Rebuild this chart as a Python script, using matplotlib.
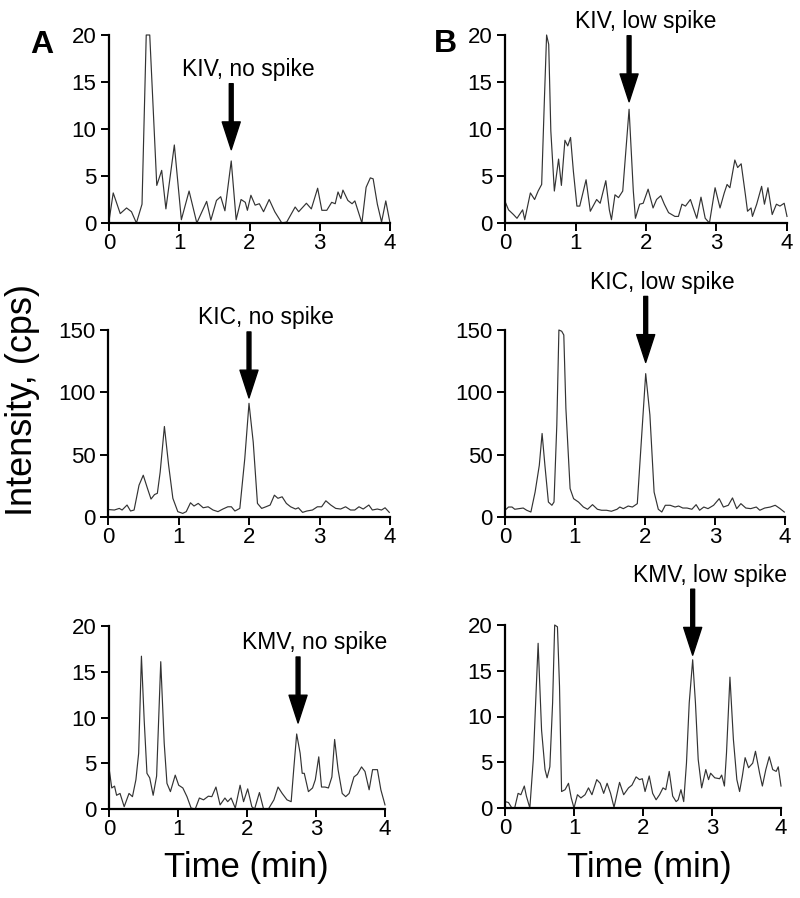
import numpy as np
import matplotlib
matplotlib.use("Agg")
import matplotlib.pyplot as plt

plt.rcParams['font.family'] = ['Liberation Sans', 'DejaVu Sans']

# ---- traces (time in min, intensity in cps) ----
kiv_no_t = [0.0, 0.06, 0.16, 0.25, 0.32, 0.39, 0.47, 0.53, 0.58, 0.68, 0.75, 0.81, 0.93, 1.03,
            1.14, 1.25, 1.39, 1.45, 1.53, 1.59, 1.65, 1.74, 1.81, 1.88, 1.94, 1.97, 2.02, 2.08,
            2.14, 2.20, 2.28, 2.36, 2.46, 2.53, 2.65, 2.70, 2.81, 2.88, 2.97, 3.03, 3.10, 3.17,
            3.22, 3.26, 3.30, 3.33, 3.40, 3.46, 3.50, 3.60, 3.66, 3.72, 3.76, 3.82, 3.88, 3.94, 4.0]
kiv_no_y = [0.2, 3.2, 1.0, 1.6, 1.2, 0.0, 2.0, 20.0, 20.0, 4.0, 5.6, 1.5, 8.3, 0.35,
            3.4, 0.0, 2.3, 0.3, 2.4, 2.8, 1.3, 6.6, 0.35, 2.5, 2.2, 1.35, 2.95, 1.9,
            2.05, 1.2, 2.5, 1.2, 0.0, 0.1, 1.7, 1.2, 2.1, 1.5, 3.7, 1.35, 1.35, 2.2,
            2.05, 3.3, 2.6, 3.5, 2.4, 2.05, 2.35, 0.0, 3.8, 4.8, 4.7, 2.0, 0.1, 2.35, 0.0]

kiv_low_t = [0.0, 0.05, 0.12, 0.17, 0.25, 0.28, 0.36, 0.42, 0.47, 0.52, 0.56, 0.59, 0.62, 0.65,
             0.70, 0.76, 0.80, 0.85, 0.89, 0.93, 0.97, 1.02, 1.06, 1.15, 1.21, 1.30, 1.35, 1.43,
             1.48, 1.51, 1.56, 1.61, 1.67, 1.76, 1.82, 1.85, 1.91, 1.96, 2.03, 2.10, 2.15, 2.21,
             2.26, 2.32, 2.41, 2.46, 2.51, 2.56, 2.63, 2.67, 2.72, 2.78, 2.84, 2.90, 2.98, 3.05,
             3.11, 3.15, 3.19, 3.26, 3.30, 3.35, 3.41, 3.44, 3.49, 3.51, 3.57, 3.64, 3.68, 3.73,
             3.79, 3.85, 3.90, 3.96, 4.0]
kiv_low_y = [2.3, 1.4, 0.9, 0.5, 1.4, 0.35, 3.2, 2.5, 3.4, 4.1, 13.4, 20.0, 19.0, 9.8,
             3.4, 6.8, 4.0, 8.8, 8.2, 9.1, 5.5, 1.8, 1.8, 4.6, 1.25, 2.5, 2.1, 4.5,
             1.4, 0.35, 3.0, 2.7, 3.4, 12.1, 3.4, 0.5, 2.0, 2.1, 3.6, 1.6, 2.5, 2.9,
             2.0, 1.1, 0.7, 0.7, 2.0, 1.8, 2.5, 1.6, 0.5, 2.75, 0.5, 0.0, 3.75, 1.6,
             3.2, 4.1, 3.75, 6.7, 5.9, 6.3, 3.0, 1.25, 1.6, 0.7, 2.0, 3.9, 2.0, 3.75,
             0.9, 2.0, 1.8, 2.1, 0.7]

kic_no_t = [0.0, 0.09, 0.16, 0.20, 0.27, 0.32, 0.37, 0.44, 0.50, 0.56, 0.61, 0.66, 0.70, 0.74,
            0.80, 0.86, 0.92, 0.99, 1.06, 1.11, 1.17, 1.22, 1.28, 1.35, 1.42, 1.49, 1.56, 1.63,
            1.70, 1.75, 1.80, 1.87, 1.94, 2.00, 2.06, 2.12, 2.18, 2.24, 2.30, 2.36, 2.41, 2.47,
            2.53, 2.59, 2.66, 2.70, 2.76, 2.82, 2.90, 2.97, 3.03, 3.09, 3.16, 3.23, 3.30, 3.37,
            3.44, 3.50, 3.56, 3.62, 3.70, 3.75, 3.82, 3.88, 3.93, 3.99]
kic_no_y = [6.0, 5.6, 6.9, 5.6, 9.6, 4.8, 5.6, 25.5, 33.5, 22.9, 14.4, 18.0, 19.0, 36.0,
            72.6, 41.5, 15.0, 4.3, 2.9, 4.3, 11.4, 8.8, 10.9, 7.4, 8.2, 5.6, 4.3, 6.4,
            8.2, 8.2, 4.8, 6.9, 46.8, 91.2, 60.0, 10.9, 6.9, 8.2, 9.6, 17.5, 15.0, 16.2,
            10.9, 8.2, 6.4, 7.4, 3.7, 4.8, 5.6, 8.2, 8.2, 13.0, 9.6, 6.9, 6.4, 8.2,
            5.6, 5.6, 8.2, 6.4, 9.6, 5.6, 6.4, 5.6, 7.4, 3.7]

kic_low_t = [0.0, 0.05, 0.10, 0.14, 0.20, 0.26, 0.31, 0.37, 0.43, 0.49, 0.53, 0.57, 0.62, 0.67,
             0.70, 0.74, 0.77, 0.81, 0.84, 0.87, 0.93, 0.98, 1.05, 1.12, 1.18, 1.25, 1.32, 1.38,
             1.45, 1.52, 1.60, 1.64, 1.69, 1.76, 1.82, 1.89, 1.95, 2.01, 2.07, 2.13, 2.19, 2.24,
             2.29, 2.36, 2.43, 2.48, 2.54, 2.60, 2.67, 2.73, 2.78, 2.84, 2.90, 2.98, 3.06, 3.12,
             3.19, 3.25, 3.31, 3.37, 3.44, 3.51, 3.59, 3.64, 3.71, 3.79, 3.86, 3.93, 3.99]
kic_low_y = [5.4, 8.0, 8.0, 6.2, 6.7, 7.2, 5.4, 4.0, 20.0, 41.5, 67.0, 41.5, 12.0, 9.4,
             12.0, 73.7, 150.0, 149.0, 146.0, 87.0, 22.8, 14.7, 12.0, 8.0, 6.2, 9.9, 6.2, 5.4,
             5.4, 4.6, 6.2, 8.0, 6.7, 8.8, 8.0, 10.7, 63.0, 115.0, 81.8, 20.0, 6.2, 4.0,
             9.4, 9.4, 8.0, 8.8, 7.2, 7.2, 6.2, 9.9, 5.4, 8.0, 6.7, 9.4, 14.7, 8.0,
             9.4, 15.3, 6.7, 10.7, 7.2, 6.7, 8.0, 5.4, 7.2, 8.0, 9.4, 6.7, 4.0]

kmv_no_t = [0.0, 0.04, 0.08, 0.11, 0.16, 0.22, 0.29, 0.34, 0.39, 0.43, 0.47, 0.51, 0.55, 0.59,
            0.64, 0.69, 0.75, 0.80, 0.84, 0.89, 0.96, 1.01, 1.07, 1.13, 1.19, 1.25, 1.31, 1.37,
            1.44, 1.49, 1.55, 1.61, 1.68, 1.72, 1.77, 1.83, 1.90, 1.95, 2.01, 2.07, 2.11, 2.18,
            2.24, 2.31, 2.39, 2.45, 2.51, 2.58, 2.64, 2.68, 2.72, 2.77, 2.80, 2.83, 2.89, 2.95,
            2.99, 3.04, 3.08, 3.13, 3.18, 3.23, 3.27, 3.32, 3.38, 3.43, 3.48, 3.55, 3.60, 3.66,
            3.71, 3.77, 3.82, 3.89, 3.94, 4.0]
kmv_no_y = [4.5, 2.3, 2.5, 1.5, 1.7, 0.25, 1.7, 1.35, 3.2, 6.1, 16.7, 9.7, 3.9, 3.4,
            1.5, 3.6, 16.1, 7.2, 2.8, 1.9, 3.7, 2.6, 2.3, 1.35, 0.1, 0.0, 1.2, 1.0,
            1.4, 1.35, 2.4, 0.45, 1.2, 0.8, 1.2, 0.1, 2.6, 0.8, 2.2, 0.25, 0.0, 1.8,
            0.0, 0.0, 1.0, 2.4, 1.7, 1.0, 0.8, 4.6, 8.2, 6.1, 3.9, 3.9, 1.9, 2.3,
            3.2, 5.7, 2.4, 2.4, 2.3, 3.5, 7.6, 4.3, 1.7, 1.35, 1.7, 3.5, 3.8, 4.6,
            4.1, 2.1, 4.3, 4.3, 2.1, 0.45]

kmv_low_t = [0.0, 0.05, 0.10, 0.14, 0.19, 0.23, 0.28, 0.31, 0.36, 0.41, 0.48, 0.53, 0.58, 0.61,
             0.65, 0.69, 0.72, 0.76, 0.79, 0.82, 0.87, 0.92, 0.96, 1.00, 1.05, 1.10, 1.16, 1.21,
             1.26, 1.33, 1.38, 1.43, 1.48, 1.53, 1.58, 1.66, 1.72, 1.79, 1.84, 1.90, 1.95, 1.99,
             2.03, 2.09, 2.14, 2.19, 2.24, 2.29, 2.33, 2.38, 2.43, 2.48, 2.51, 2.55, 2.59, 2.63,
             2.67, 2.72, 2.76, 2.80, 2.85, 2.91, 2.95, 2.98, 3.04, 3.11, 3.14, 3.18, 3.21, 3.26,
             3.31, 3.36, 3.40, 3.44, 3.48, 3.53, 3.59, 3.63, 3.69, 3.73, 3.78, 3.83, 3.88, 3.93,
             3.96, 4.0]
kmv_low_y = [0.7, 0.6, 0.0, 0.0, 1.6, 1.45, 2.4, 1.3, 0.0, 5.3, 18.0, 8.5, 4.2, 3.3,
             4.5, 11.5, 20.0, 19.8, 13.3, 1.8, 2.0, 2.7, 1.1, 0.0, 1.45, 1.1, 1.45, 2.2,
             1.45, 3.1, 2.7, 1.6, 2.7, 1.6, 0.07, 2.8, 1.45, 2.2, 2.5, 3.4, 3.1, 3.2,
             1.8, 3.5, 1.6, 0.9, 1.45, 2.2, 2.0, 4.0, 1.3, 0.7, 0.9, 2.0, 0.7, 4.9,
             11.5, 16.2, 11.5, 5.3, 2.2, 4.2, 3.1, 3.8, 3.3, 3.2, 3.6, 2.4, 6.0, 14.3,
             7.5, 3.1, 1.8, 3.5, 5.5, 4.4, 4.9, 6.2, 3.8, 2.4, 4.2, 5.6, 4.2, 4.0,
             4.5, 2.4]

labels = ["KIV, no spike", "KIV, low spike",
          "KIC, no spike", "KIC, low spike",
          "KMV, no spike", "KMV, low spike"]
arrow_x = [1.74, 1.76, 2.00, 2.01, 2.74, 2.72]
arrow_y = [7.8, 12.9, 95.5, 124.0, 9.4, 16.7]
ymax = [20, 20, 150, 150, 20, 20]
yticks = [[0, 5, 10, 15, 20], [0, 5, 10, 15, 20],
          [0, 50, 100, 150], [0, 50, 100, 150],
          [0, 5, 10, 15, 20], [0, 5, 10, 15, 20]]
xticks = [0, 1, 2, 3, 4]

traces = [(kiv_no_t, kiv_no_y), (kiv_low_t, kiv_low_y),
          (kic_no_t, kic_no_y), (kic_low_t, kic_low_y),
          (kmv_no_t, kmv_no_y), (kmv_low_t, kmv_low_y)]

W, H = 800, 898
# axes boxes in pixels: left, right, top, bottom
boxes = [(109, 390, 35, 223), (505, 787, 35, 223),
         (108, 390, 330, 517), (505, 785, 330, 517),
         (109, 385, 626, 809), (505, 781, 625, 808)]

fig = plt.figure(figsize=(W / 100, H / 100), dpi=100)

for i, (l, r, t, b) in enumerate(boxes):
    ax = fig.add_axes([l / W, 1 - b / H, (r - l) / W, (b - t) / H])
    tt, yy = traces[i]
    ax.plot(tt, yy, color='#333333', lw=0.85, clip_on=False)
    ax.set_xlim(0, 4)
    ax.set_ylim(0, ymax[i])
    ax.set_xticks(xticks)
    ax.set_yticks(yticks[i])
    for s in ['top', 'right']:
        ax.spines[s].set_visible(False)
    for s in ['left', 'bottom']:
        ax.spines[s].set_linewidth(1.6)
    ax.tick_params(axis='both', direction='out', length=6, width=1.4, labelsize=16)
    ax.tick_params(axis='x', pad=1)
    ax.tick_params(axis='y', pad=3)
    ax.patch.set_visible(False)

    # arrow pointing to the analyte peak
    ax.annotate('', xy=(arrow_x[i], arrow_y[i]), xycoords='data',
                xytext=(0, 66), textcoords='offset pixels',
                arrowprops=dict(facecolor='black', edgecolor='black', width=2.8,
                                headwidth=13, headlength=20, shrink=0))
    ax.annotate(labels[i], xy=(arrow_x[i], arrow_y[i]), xycoords='data',
                xytext=(17, 80), textcoords='offset pixels',
                ha='center', va='center', fontsize=16.5, annotation_clip=False)

fig.text(42 / W, 1 - 45 / H, "A", fontsize=23, fontweight='bold', ha='center', va='center')
fig.text(445 / W, 1 - 44 / H, "B", fontsize=23, fontweight='bold', ha='center', va='center')
fig.text(23 / W, 1 - 400 / H, "Intensity, (cps)", fontsize=26, rotation=90,
         ha='center', va='center')
fig.text(246 / W, 1 - 868 / H, "Time (min)", fontsize=25, ha='center', va='center')
fig.text(649 / W, 1 - 868 / H, "Time (min)", fontsize=25, ha='center', va='center')

fig.savefig("out.png", dpi=100)
